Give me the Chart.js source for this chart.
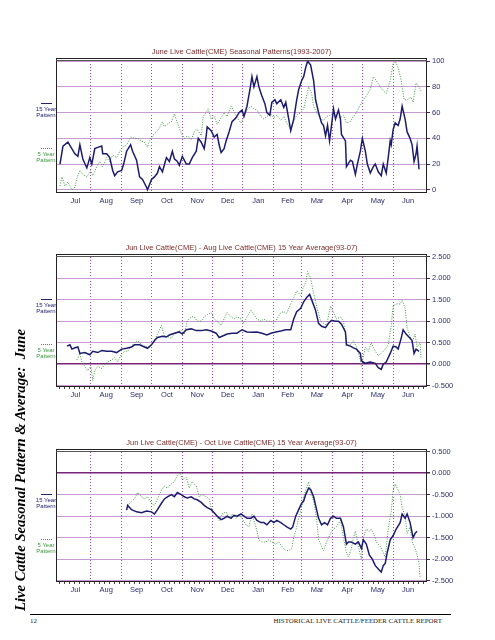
<!DOCTYPE html>
<html>
<head>
<meta charset="utf-8">
<script src="https://cdn.jsdelivr.net/npm/chart.js@4.4.1/dist/chart.umd.min.js"></script>
<style>
  body { margin: 0; background: #fff; width: 495px; height: 640px; position: relative; overflow: hidden; font-family: Arial, "Liberation Sans", sans-serif; }
  .box { position: absolute; left: 0; width: 495px; }
  .leg { position: absolute; left: 31px; width: 30px; text-align: center; font-size: 6px; line-height: 6.3px; }
  .leg .ln { width: 11px; height: 0; margin: 0 auto 1.5px; }
  .l15 { color: #22226e; }
  .l15 .ln { border-top: 1.5px solid #22226e; }
  .l5 { color: #3d963d; }
  .l5 .ln { border-top: 1.2px dotted #3d963d; }
  #side { position: absolute; left: 20px; top: 470px; transform: translate(-50%, -50%) rotate(-90deg); white-space: pre;
          font: bold italic 14.7px "Liberation Serif", "Times New Roman", serif; color: #000; }
  #rule { position: absolute; left: 30px; top: 614px; width: 421px; height: 0; border-top: 1.5px solid #000; }
  .foot { position: absolute; top: 617px; font: 6.9px "Liberation Serif", "Times New Roman", serif; color: #222; }
</style>
</head>
<body>
<div class="box" style="top:40px"><canvas id="c1" width="495" height="170"></canvas></div>
<div class="box" style="top:236px"><canvas id="c2" width="495" height="168"></canvas></div>
<div class="box" style="top:431px"><canvas id="c3" width="495" height="168"></canvas></div>

<div class="leg l15" style="top:103px"><div class="ln"></div>15 Year<br>Pattern</div>
<div class="leg l5" style="top:148px"><div class="ln"></div>5 Year<br>Pattern</div>
<div class="leg l15" style="top:299px"><div class="ln"></div>15 Year<br>Pattern</div>
<div class="leg l5" style="top:344px"><div class="ln"></div>5 Year<br>Pattern</div>
<div class="leg l15" style="top:494px"><div class="ln"></div>15 Year<br>Pattern</div>
<div class="leg l5" style="top:539px"><div class="ln"></div>5 Year<br>Pattern</div>

<div id="side">Live Cattle Seasonal Pattern &amp; Average:  June</div>
<div id="rule"></div>
<div class="foot" style="left:30px">12</div>
<div class="foot" style="right:53px">HISTORICAL LIVE CATTLE/FEEDER CATTLE REPORT</div>

<script>
// days counted from Jul 1 (season runs Jul -> Jun)
const months = ["Jul", "Aug", "Sep", "Oct", "Nov", "Dec", "Jan", "Feb", "Mar", "Apr", "May", "Jun"];
const monthStarts = [0, 31, 62, 92, 123, 153, 184, 215, 243, 274, 304, 335, 365];

// chart 1: June Live Cattle seasonal pattern (0-100 index) as [day, value]
const june15 = [[0,20],[3,34],[8,37],[15,28],[18,26],[20,35],[23,24],[27,17],[30,25],[32,20],
  [35,32],[38,33],[42,34],[43,28],[47,28],[50,25],[53,15],[55,11],[58,14],[62,15],
  [64,20],[67,30],[71,35],[73,30],[77,23],[80,10],[83,8],[87,2],[88,0],[92,8],
  [95,10],[98,13],[100,18],[103,14],[107,25],[110,22],[113,30],[115,24],[118,22],[120,19],
  [123,26],[127,20],[130,20],[133,25],[137,30],[139,40],[142,37],[145,32],[147,42],[148,49],
  [152,46],[155,41],[158,43],[160,35],[162,29],[165,32],[167,38],[170,45],[173,53],[177,56],
  [180,60],[183,62],[185,57],[188,65],[191,78],[193,88],[195,80],[198,88],[200,80],[203,73],
  [206,67],[208,60],[211,58],[213,68],[216,70],[218,67],[222,70],[225,64],[227,68],[230,55],
  [232,46],[235,55],[238,70],[240,78],[243,85],[245,88],[247,95],[249,100],[252,97],[255,85],
  [257,70],[260,60],[263,52],[265,50],[267,42],[269,50],[271,38],[273,50],[275,63],[277,55],
  [280,62],[282,55],[283,43],[287,38],[288,18],[292,23],[294,22],[297,12],[299,20],[302,30],
  [304,40],[307,30],[309,20],[312,13],[315,18],[317,20],[320,14],[323,11],[325,20],[328,13],
  [330,25],[332,38],[333,35],[335,47],[337,52],[340,50],[342,55],[344,65],[347,55],[349,45],
  [352,40],[354,35],[356,22],[358,28],[359,34],[361,16]];
const june5 = [[0,3],[2,10],[5,3],[8,6],[12,0],[15,2],[17,9],[20,15],[23,12],[27,10],
  [31,15],[33,11],[37,18],[40,22],[43,18],[47,25],[50,22],[53,27],[57,25],[60,30],
  [63,33],[67,35],[71,41],[75,40],[78,40],[82,38],[85,37],[88,33],[90,38],[93,42],
  [97,45],[100,48],[103,53],[105,49],[108,51],[112,53],[115,59],[118,52],[122,44],[125,40],
  [128,42],[132,39],[135,45],[138,47],[142,42],[144,57],[147,60],[149,63],[152,55],[155,57],
  [158,51],[162,56],[165,60],[168,57],[172,65],[175,61],[178,56],[182,52],[185,57],[188,62],
  [192,65],[195,63],[198,62],[202,57],[205,55],[208,57],[212,59],[215,56],[218,58],[222,54],
  [225,57],[228,52],[232,47],[235,53],[238,58],[242,60],[245,63],[247,70],[250,80],[253,75],
  [255,65],[258,60],[262,55],[265,54],[268,57],[272,58],[275,60],[278,57],[282,56],[285,58],
  [288,52],[292,53],[295,57],[298,60],[302,66],[305,70],[308,73],[312,78],[315,88],[318,85],
  [322,80],[325,77],[328,75],[332,85],[335,98],[337,100],[340,95],[343,85],[346,70],[349,70],
  [353,72],[355,68],[357,78],[358,83],[361,80],[363,77]];

// chart 2: Jun - Aug Live Cattle spread
const junAug15 = [[7,.42],[10,.45],[12,.35],[15,.38],[18,.40],[20,.25],[25,.27],[30,.22],[33,.30],[38,.27],
  [42,.32],[47,.30],[52,.30],[57,.27],[62,.35],[67,.37],[72,.40],[75,.45],[80,.45],[85,.40],
  [88,.37],[92,.45],[95,.55],[98,.62],[103,.65],[107,.63],[110,.68],[115,.72],[120,.75],[123,.70],
  [127,.80],[132,.82],[137,.78],[142,.78],[147,.80],[152,.77],[157,.72],[160,.62],[163,.65],[168,.70],
  [173,.72],[178,.72],[183,.80],[188,.75],[193,.74],[198,.75],[203,.72],[208,.68],[212,.72],[217,.75],
  [222,.77],[227,.80],[232,.80],[235,1.05],[238,1.22],[242,1.30],[245,1.45],[248,1.55],[251,1.62],[253,1.50],
  [257,1.25],[260,.95],[263,.88],[267,.85],[270,.95],[273,1.02],[277,1.00],[280,1.00],[283,.93],[287,.75],
  [288,.45],[292,.42],[295,.38],[298,.35],[302,.25],[303,.08],[307,.02],[312,.05],[317,.02],[320,-.08],
  [323,-.12],[325,0],[328,.05],[332,.25],[335,.42],[338,.40],[340,.35],[343,.60],[345,.80],[348,.70],
  [352,.60],[354,.55],[356,.25],[358,.35],[361,.30]];
const junAug5 = [[17,.10],[20,.25],[22,.05],[25,-.05],[28,-.15],[31,-.05],[33,-.38],[35,-.15],[38,-.05],[42,-.10],
  [45,0],[48,.05],[52,.10],[55,.15],[58,.05],[62,.25],[65,.30],[68,.30],[72,.42],[75,.50],
  [78,.55],[82,.45],[85,.42],[88,.40],[92,.45],[95,.55],[98,.70],[102,.90],[105,.65],[108,.65],
  [112,.60],[115,.70],[118,.75],[122,.80],[125,.70],[128,1.00],[132,1.10],[135,1.10],[138,1.00],[142,1.00],
  [145,1.10],[148,1.15],[152,1.20],[155,1.05],[158,1.00],[162,.90],[165,1.05],[168,1.20],[172,1.10],[175,1.05],
  [178,1.10],[182,1.05],[185,.95],[188,1.10],[192,1.25],[195,1.15],[198,1.05],[202,1.00],[205,1.05],[208,1.00],
  [212,1.00],[215,.95],[218,1.05],[222,1.20],[225,1.22],[228,1.18],[232,1.40],[235,1.55],[238,1.70],[242,1.60],
  [244,1.75],[247,1.90],[249,2.15],[252,2.00],[255,1.65],[258,1.35],[262,1.00],[265,.95],[268,.90],[272,1.35],
  [275,1.20],[278,1.05],[282,1.10],[285,1.00],[288,.55],[292,.45],[295,.55],[298,.40],[302,.10],[303,-.05],
  [307,.40],[310,.30],[313,.50],[317,.30],[320,.20],[323,.25],[327,.35],[330,.45],[333,.90],[335,1.35],
  [338,1.40],[342,1.40],[344,1.48],[347,1.30],[349,.85],[352,.65],[354,.50],[357,.70],[359,.40],[362,.50],[363,.15]];

// chart 3: Jun - Oct Live Cattle spread
const junOct15 = [[67,-.86],[68,-.75],[72,-.85],[77,-.90],[82,-.92],[87,-.88],[92,-.90],[95,-.95],[98,-.85],[102,-.70],
  [105,-.60],[108,-.55],[112,-.50],[115,-.55],[118,-.45],[122,-.50],[125,-.55],[128,-.58],[132,-.55],[135,-.60],
  [138,-.62],[142,-.68],[145,-.75],[148,-.80],[152,-.85],[155,-.92],[158,-1.00],[162,-1.08],[165,-1.05],[168,-1.00],
  [172,-1.05],[175,-.98],[178,-1.00],[182,-.95],[185,-1.00],[188,-1.05],[192,-1.05],[195,-1.00],[198,-1.10],[202,-1.15],
  [205,-1.15],[208,-1.20],[212,-1.10],[215,-1.15],[218,-1.10],[222,-1.15],[225,-1.20],[228,-1.25],[232,-1.30],[234,-1.25],
  [237,-1.00],[240,-.85],[243,-.70],[245,-.65],[247,-.50],[250,-.35],[252,-.38],[255,-.55],[258,-.85],[260,-1.05],
  [263,-1.20],[266,-1.15],[269,-1.20],[272,-1.05],[275,-1.00],[278,-1.05],[282,-1.05],[285,-1.25],[288,-1.65],[290,-1.60],
  [293,-1.60],[297,-1.65],[300,-1.60],[303,-1.75],[305,-1.55],[308,-1.65],[311,-1.90],[314,-2.00],[317,-2.15],[321,-2.25],
  [323,-2.30],[325,-2.15],[327,-2.10],[329,-1.85],[332,-1.55],[335,-1.45],[338,-1.30],[342,-1.15],[344,-.95],[347,-1.05],
  [349,-.95],[352,-1.15],[355,-1.50],[357,-1.40],[359,-1.35]];
const junOct5 = [[68,-.75],[72,-.65],[75,-.60],[78,-.45],[82,-.55],[85,-.60],[88,-.55],[92,-.70],[95,-.75],[98,-.60],
  [102,-.40],[105,-.30],[108,-.35],[112,-.25],[115,-.20],[118,-.05],[121,0],[123,-.15],[127,-.10],[130,-.35],
  [133,-.20],[137,-.30],[140,-.55],[143,-.50],[147,-.55],[150,-.60],[153,-.90],[157,-.95],[160,-1.10],[163,-.95],
  [167,-.90],[170,-1.05],[173,-.95],[177,-1.05],[180,-.95],[183,-1.05],[187,-1.20],[190,-1.25],[193,-.95],[197,-1.25],
  [200,-1.55],[203,-1.60],[207,-1.60],[210,-1.55],[213,-1.60],[217,-1.65],[220,-1.60],[223,-1.70],[227,-1.80],[230,-1.80],
  [233,-1.75],[235,-1.50],[238,-1.25],[240,-1.05],[243,-.80],[245,-.55],[247,-.40],[250,-.20],[252,-.45],[255,-.65],
  [258,-1.05],[260,-1.55],[263,-1.70],[265,-1.80],[268,-1.60],[272,-1.40],[275,-1.30],[278,-1.25],[282,-1.10],[285,-1.50],
  [288,-1.85],[290,-1.95],[293,-1.75],[295,-1.50],[297,-1.35],[300,-1.70],[303,-2.00],[305,-1.50],[308,-1.30],[311,-1.35],
  [313,-1.30],[316,-1.45],[318,-1.60],[322,-1.70],[325,-1.85],[327,-1.95],[330,-1.30],[333,-.90],[335,-.40],[337,-.25],
  [339,-.35],[342,-.50],[344,-.80],[347,-1.00],[349,-1.40],[352,-1.25],[354,-1.60],[357,-1.75],[359,-1.90],[361,-2.10],[362,-2.42]];

const pctTicks = [0, 20, 40, 60, 80, 100];
const spreadTicks2 = [-0.5, 0, 0.5, 1, 1.5, 2, 2.5];
const spreadTicks3 = [-2.5, -2, -1.5, -1, -0.5, 0, 0.5];

const NAVY = "#1c1c6e", GREEN = "#3d963d", TXT = "#2e2e6a";

const frame = {
  id: "frame",
  afterDraw(chart) {
    const a = chart.chartArea, ctx = chart.ctx;
    ctx.save();
    ctx.strokeStyle = "#222";
    ctx.lineWidth = 1;
    ctx.strokeRect(a.left + 0.5, a.top + 0.5, a.right - a.left - 1, a.bottom - a.top - 1);
    ctx.strokeStyle = "#555";
    ctx.beginPath(); ctx.moveTo(a.left, a.top + 2.5); ctx.lineTo(a.right, a.top + 2.5); ctx.stroke();
    ctx.restore();
  }
};

function xTicks(minor) {
  const t = [];
  monthStarts.slice(1, 12).forEach(v => t.push({ value: v, kind: "m" }));
  months.forEach((m, i) => t.push({ value: (monthStarts[i] + monthStarts[i + 1]) / 2, kind: "l", name: m }));
  if (minor) for (let d = 0; d <= 365; d += 5) t.push({ value: d, kind: "w" });
  return t.sort((a, b) => a.value - b.value);
}

function build(id, title, s15, s5, yMin, yMax, yTicks, fmt, zeroDark, minor) {
  new Chart(document.getElementById(id), {
    type: "line",
    data: {
      datasets: [
        { label: "15 Year Pattern", data: s15.map(p => ({ x: p[0], y: p[1] })), borderColor: NAVY, borderWidth: 1.5, pointRadius: 0, tension: 0 },
        { label: "5 Year Pattern", data: s5.map(p => ({ x: p[0], y: p[1] })), borderColor: GREEN, borderWidth: 1, borderDash: [1, 1.5], pointRadius: 0, tension: 0 }
      ]
    },
    options: {
      responsive: false,
      animation: false,
      devicePixelRatio: 1,
      layout: { padding: { left: 56, right: 28, top: 0, bottom: 0 } },
      plugins: {
        legend: { display: false },
        tooltip: { enabled: false },
        title: { display: true, text: title, color: "#7b2d2d", fullSize: false,
                 font: { size: 7.5, family: "Arial", weight: "normal" }, padding: { top: 7, bottom: 2 } }
      },
      scales: {
        x: {
          type: "linear", min: -4, max: 369,
          afterBuildTicks: s => { s.ticks = xTicks(minor); },
          afterFit: s => { s.height = 17; },
          border: { display: false, dash: [1, 2] },
          grid: {
            color: c => (c.tick && c.tick.kind === "m") ? "#9a4fab" : "rgba(0,0,0,0)",
            tickColor: c => (c.tick && c.tick.kind === "w") ? "#444" : "rgba(0,0,0,0)",
            tickLength: 2, lineWidth: 1
          },
          ticks: {
            autoSkip: false, maxRotation: 0, padding: 1, color: TXT,
            font: { size: 7.5, family: "Arial" },
            callback: (v, i, t) => t[i].kind === "l" ? t[i].name : ""
          }
        },
        y: {
          position: "right", min: yMin, max: yMax,
          afterBuildTicks: s => { s.ticks = yTicks.map(v => ({ value: v })); },
          afterFit: s => { s.width = 40; },
          border: { display: false },
          grid: {
            color: c => (zeroDark && c.tick && c.tick.value === 0) ? "#7a237a" : "#c79ad2",
            lineWidth: c => (zeroDark && c.tick && c.tick.value === 0) ? 1.5 : 1,
            tickColor: "#333", tickLength: 3
          },
          ticks: { padding: 2, color: TXT, font: { size: 7.5, family: "Arial" }, callback: fmt }
        }
      }
    },
    plugins: [frame]
  });
}

build("c1", "June Live Cattle(CME) Seasonal Patterns(1993-2007)", june15, june5,
  -2.5, 102.5, pctTicks, v => String(v), false, false);
build("c2", "Jun Live Cattle(CME) - Aug Live Cattle(CME) 15 Year Average(93-07)", junAug15, junAug5,
  -0.53, 2.56, spreadTicks2, v => v.toFixed(3), true, true);
build("c3", "Jun Live Cattle(CME) - Oct Live Cattle(CME) 15 Year Average(93-07)", junOct15, junOct5,
  -2.53, 0.56, spreadTicks3, v => v.toFixed(3), true, true);
</script>
</body>
</html>
